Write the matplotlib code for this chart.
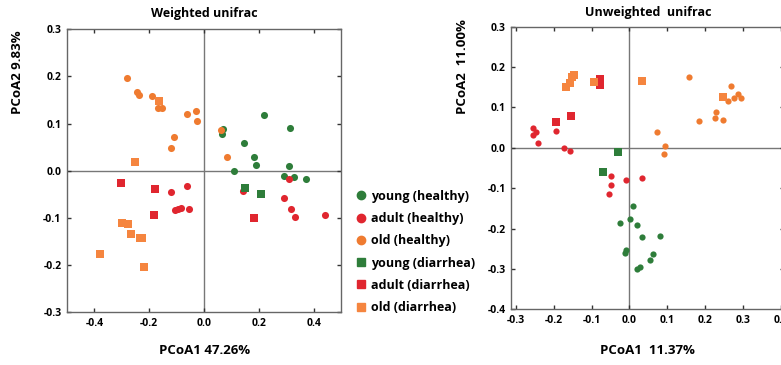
import matplotlib.pyplot as plt
from matplotlib.lines import Line2D

plt.rcParams['font.family'] = ['Open Sans', 'DejaVu Sans']
plt.rcParams['font.weight'] = 'bold'

groups = ['young (healthy)', 'adult (healthy)', 'old (healthy)',
          'young (diarrhea)', 'adult (diarrhea)', 'old (diarrhea)']
colors = ['#2e7d3a', '#e0262f', '#ef7b30', '#2e7d3a', '#e0262f', '#f5853f']
markers = ['o', 'o', 'o', 's', 's', 's']

# Weighted unifrac: (PCoA1, PCoA2) per group
w_young_h_x = [0.218, 0.314, 0.070, 0.066, 0.147, 0.180, 0.189, 0.309, 0.109, 0.291, 0.326, 0.371]
w_young_h_y = [0.118, 0.090, 0.088, 0.078, 0.059, 0.030, 0.013, 0.011, 0.000, -0.012, -0.014, -0.018]
w_adult_h_x = [-0.121, -0.063, -0.108, -0.097, -0.085, -0.056, 0.309, 0.141, 0.291, 0.315, 0.331, 0.440]
w_adult_h_y = [-0.046, -0.033, -0.083, -0.081, -0.078, -0.081, -0.018, -0.042, -0.057, -0.080, -0.098, -0.094]
w_old_h_x = [-0.283, -0.244, -0.238, -0.189, -0.153, -0.167, -0.061, -0.031, -0.025, -0.109, -0.121, 0.063, 0.083]
w_old_h_y = [0.197, 0.167, 0.160, 0.158, 0.134, 0.134, 0.121, 0.127, 0.105, 0.071, 0.049, 0.086, 0.030]
w_young_d_x = [0.150, 0.207]
w_young_d_y = [-0.036, -0.049]
w_adult_d_x = [-0.304, -0.178, -0.183, 0.182]
w_adult_d_y = [-0.026, -0.039, -0.093, -0.101]
w_old_d_x = [-0.164, -0.253, -0.299, -0.276, -0.266, -0.234, -0.227, -0.221, -0.378]
w_old_d_y = [0.148, 0.018, -0.110, -0.112, -0.133, -0.143, -0.143, -0.204, -0.177]

# Unweighted unifrac
u_young_h_x = [0.010, 0.001, -0.024, 0.019, 0.034, 0.080, -0.009, -0.011, 0.062, 0.055, 0.029, 0.020]
u_young_h_y = [-0.143, -0.176, -0.185, -0.192, -0.222, -0.218, -0.254, -0.261, -0.264, -0.278, -0.295, -0.300]
u_adult_h_x = [-0.255, -0.247, -0.256, -0.242, -0.193, -0.174, -0.158, -0.048, -0.048, -0.055, -0.009, 0.034]
u_adult_h_y = [0.049, 0.040, 0.031, 0.012, 0.042, 0.000, -0.009, -0.070, -0.093, -0.115, -0.080, -0.075]
u_old_h_x = [0.158, 0.270, 0.262, 0.276, 0.288, 0.295, 0.230, 0.227, 0.248, 0.183, 0.074, 0.094, 0.091]
u_old_h_y = [0.175, 0.152, 0.117, 0.123, 0.133, 0.123, 0.088, 0.073, 0.068, 0.067, 0.038, 0.005, -0.016]
u_young_d_x = [-0.029, -0.070]
u_young_d_y = [-0.011, -0.059]
u_adult_d_x = [-0.077, -0.077, -0.193, -0.153]
u_adult_d_y = [0.171, 0.156, 0.063, 0.080]
u_old_d_x = [-0.167, -0.158, -0.152, -0.147, -0.093, 0.033, 0.248]
u_old_d_y = [0.150, 0.160, 0.175, 0.181, 0.163, 0.166, 0.127]

weighted = [(w_young_h_x, w_young_h_y), (w_adult_h_x, w_adult_h_y), (w_old_h_x, w_old_h_y),
            (w_young_d_x, w_young_d_y), (w_adult_d_x, w_adult_d_y), (w_old_d_x, w_old_d_y)]
unweighted = [(u_young_h_x, u_young_h_y), (u_adult_h_x, u_adult_h_y), (u_old_h_x, u_old_h_y),
              (u_young_d_x, u_young_d_y), (u_adult_d_x, u_adult_d_y), (u_old_d_x, u_old_d_y)]

fig = plt.figure(figsize=(7.81, 3.65), dpi=100)
ax1 = fig.add_axes([0.0858, 0.1444, 0.3512, 0.7753])
ax2 = fig.add_axes([0.6547, 0.1526, 0.3497, 0.7742])


def style(ax, xlim, ylim, xticks, yticks):
    ax.set_xlim(xlim)
    ax.set_ylim(ylim)
    ax.set_xticks(xticks)
    ax.set_yticks(yticks)
    ax.set_xticklabels(['%.1f' % t for t in xticks])
    ax.set_yticklabels(['%.1f' % t for t in yticks])
    ax.axhline(0, color='#777777', lw=1, zorder=1)
    ax.axvline(0, color='#777777', lw=1, zorder=1)
    for s in ax.spines.values():
        s.set_color('#666666')
        s.set_linewidth(1)
    ax.tick_params(direction='in', length=3, width=1, color='#333333',
                   top=True, right=True, labelsize=7.5, pad=4)


for (x, y), c, m in zip(weighted, colors, markers):
    ax1.scatter(x, y, color=c, marker=m, s=26 if m == 'o' else 30,
                linewidths=0, zorder=3)
for (x, y), c, m in zip(unweighted, colors, markers):
    ax2.scatter(x, y, color=c, marker=m, s=20 if m == 'o' else 30,
                linewidths=0, zorder=3)

style(ax1, (-0.5, 0.5), (-0.3, 0.3), [-0.4, -0.2, 0.0, 0.2, 0.4],
      [-0.3, -0.2, -0.1, 0.0, 0.1, 0.2, 0.3])
style(ax2, (-0.312, 0.41), (-0.4, 0.3), [-0.3, -0.2, -0.1, 0.0, 0.1, 0.2, 0.3, 0.4],
      [-0.4, -0.3, -0.2, -0.1, 0.0, 0.1, 0.2, 0.3])

ax1.set_title('Weighted unifrac', fontsize=9, fontweight='bold', pad=9)
ax2.set_title('Unweighted  unifrac', fontsize=9, fontweight='bold', pad=8)

ax1.set_xlabel('PCoA1 47.26%', fontsize=9.5, fontweight='bold')
ax1.xaxis.set_label_coords(0.5, -0.113)
ax2.set_xlabel('PCoA1  11.37%', fontsize=9.5, fontweight='bold')
ax2.xaxis.set_label_coords(0.5, -0.123)

ax1.set_ylabel('PCoA2 9.83%', fontsize=9.5, fontweight='bold')
ax1.yaxis.set_label_coords(-0.182, 0.849)
ax1.yaxis.label.set_va('center')
ax2.set_ylabel('PCoA2  11.00%', fontsize=9.5, fontweight='bold')
ax2.yaxis.set_label_coords(-0.178, 0.858)
ax2.yaxis.label.set_va('center')

handles = [Line2D([], [], ls='none', marker=m, color=c, markersize=6 if m == 'o' else 5.5)
           for c, m in zip(colors, markers)]
fig.legend(handles, groups, loc='upper left', bbox_to_anchor=(0.449, 0.497),
           frameon=False, fontsize=9, handlelength=0.6, handletextpad=0.5,
           labelspacing=0.74, borderpad=0)

fig.savefig('out.png', dpi=100)
